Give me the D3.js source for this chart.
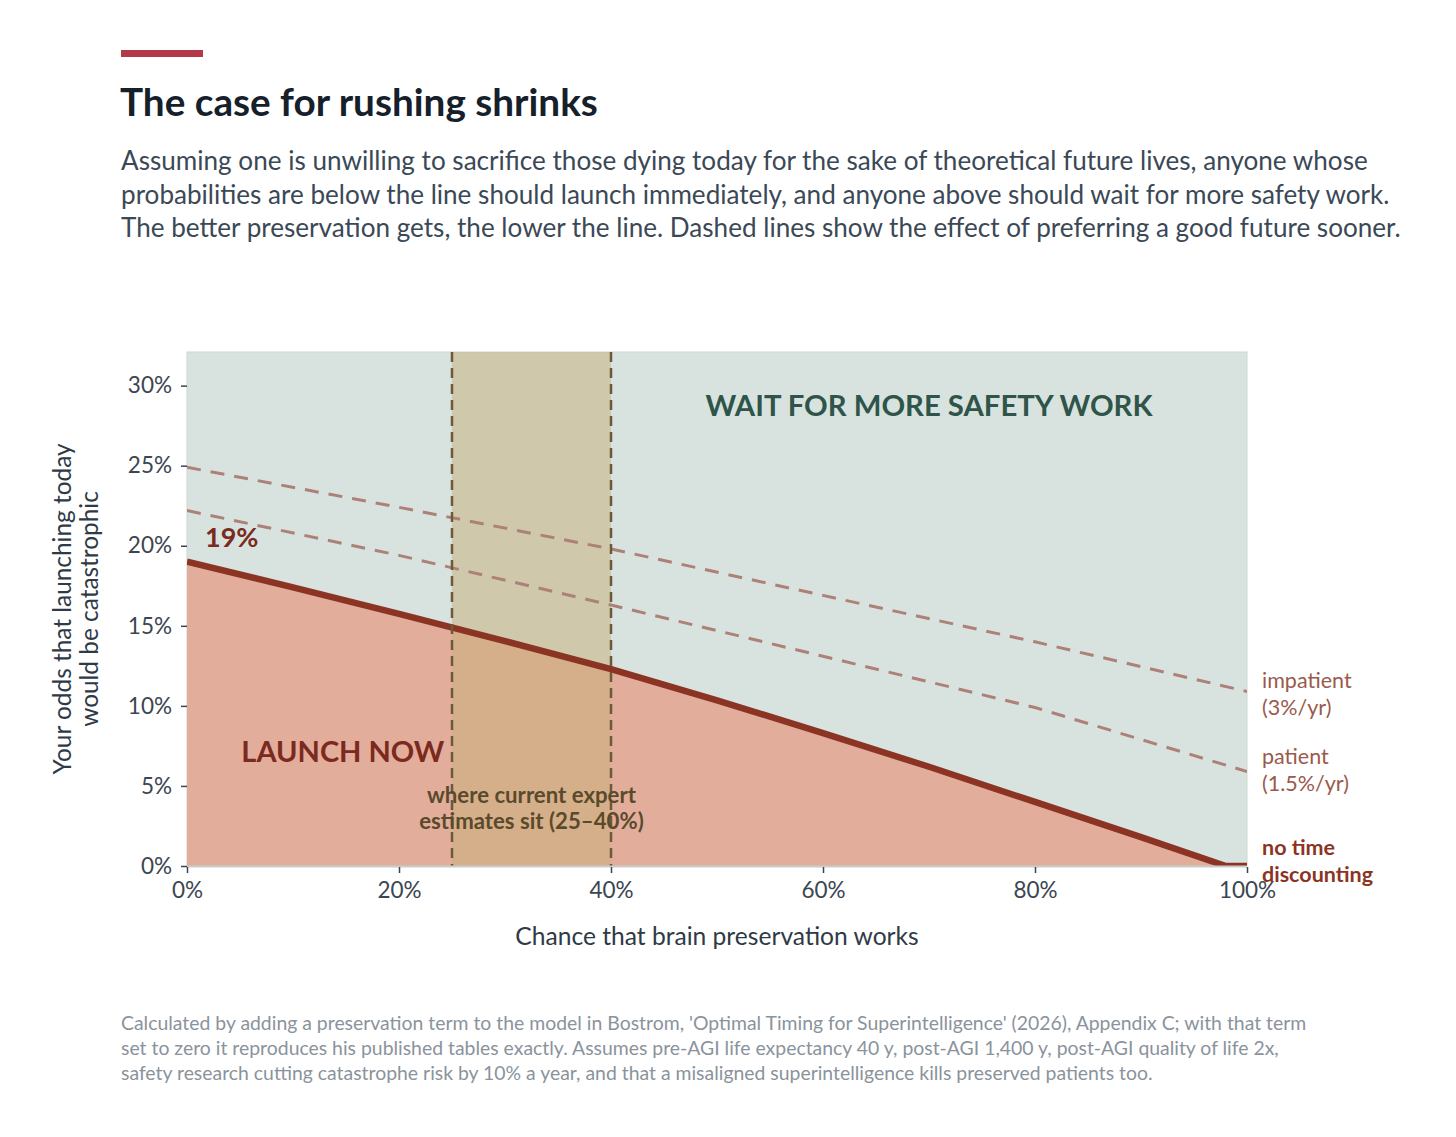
<!DOCTYPE html>
<html>
<head>
<meta charset="utf-8">
<script src="https://cdn.jsdelivr.net/npm/d3@7"></script>
<style>
  body { margin: 0; background: #fff; }
  svg { display: block; font-family: Lato, "Noto Sans", sans-serif; }
</style>
</head>
<body>
<div id="chart"></div>
<script>
// chance preservation works (%)
var preservation = [0, 10, 20, 30, 40, 50, 60, 70, 80, 90, 98, 100];
// threshold odds of catastrophe (%), no time discounting
var noDiscount = [19.0, 17.4, 15.75, 14.05, 12.3, 10.35, 8.3, 6.2, 4.0, 1.8, 0, 0];

var dashedX = [0, 20, 40, 60, 80, 100];
var impatient = [24.9, 22.4, 19.8, 16.9, 14.0, 10.9];   // 3%/yr
var patient = [22.2, 19.4, 16.3, 13.1, 9.9, 5.9];       // 1.5%/yr

var expertRange = [25, 40];
var yTicks = [0, 5, 10, 15, 20, 25, 30];
var xTicks = [0, 20, 40, 60, 80, 100];

var subtitle = [
  "Assuming one is unwilling to sacrifice those dying today for the sake of theoretical future lives, anyone whose",
  "probabilities are below the line should launch immediately, and anyone above should wait for more safety work.",
  "The better preservation gets, the lower the line. Dashed lines show the effect of preferring a good future sooner."
];
var footnote = [
  "Calculated by adding a preservation term to the model in Bostrom, 'Optimal Timing for Superintelligence' (2026), Appendix C; with that term",
  "set to zero it reproduces his published tables exactly. Assumes pre-AGI life expectancy 40 y, post-AGI 1,400 y, post-AGI quality of life 2x,",
  "safety research cutting catastrophe risk by 10% a year, and that a misaligned superintelligence kills preserved patients too."
];

var width = 1456, height = 1137;
var margin = { left: 187, right: 209, top: 352, bottom: 271 };

var svg = d3.select("#chart").append("svg")
    .attr("width", width)
    .attr("height", height);

// header
svg.append("rect")
  .attr("x", 121).attr("y", 50).attr("width", 82).attr("height", 7)
  .style("fill", "#b23a48");

svg.append("text")
  .attr("x", 120).attr("y", 116)
  .text("The case for rushing shrinks")
  .style("font-size", "38.7px")
  .style("font-weight", 700)
  .style("fill", "#16202b");

svg.append("g").selectAll("text")
  .data(subtitle)
 .enter()
  .append("text")
  .attr("x", 121)
  .attr("y", function(d, i) { return 170 + i * 33.5; })
  .text(function(d) { return d; })
  .style("font-size", "26.1px")
  .style("fill", "#3b4856");

var xScale = d3.scaleLinear()
    .domain([0, 100])
    .range([margin.left, width - margin.right]);

var yScale = d3.scaleLinear()
    .domain([0, 32.1])
    .range([height - margin.bottom, margin.top]);

var x0 = xScale(0), x1 = xScale(100), yb = yScale(0), yt = yScale(32.1);

svg.append("clipPath").attr("id", "plotclip")
  .append("rect")
  .attr("x", x0).attr("y", yt).attr("width", x1 - x0).attr("height", yb - yt);

// background: wait region
svg.append("rect")
  .attr("x", x0).attr("y", yt)
  .attr("width", x1 - x0).attr("height", yb - yt)
  .style("fill", "#d8e3df")
  .style("stroke", "#cbd8d3")
  .style("stroke-width", 1);

var plot = svg.append("g").attr("clip-path", "url(#plotclip)");

var mainData = preservation.map(function(p, i) { return { x: p, y: noDiscount[i] }; });

var area = d3.area()
    .x(function(d) { return xScale(d.x); })
    .y0(yScale(0))
    .y1(function(d) { return yScale(d.y); });

var line = d3.line()
    .x(function(d) { return xScale(d.x); })
    .y(function(d) { return yScale(d.y); });

plot.append("path")
  .datum(mainData)
  .attr("d", area)
  .style("fill", "#e3ad9b");

// expert estimate band
plot.append("rect")
  .attr("x", xScale(expertRange[0]))
  .attr("y", yt)
  .attr("width", xScale(expertRange[1]) - xScale(expertRange[0]))
  .attr("height", yb - yt)
  .style("fill", "#c8b07a")
  .style("fill-opacity", 0.53);

// dashed discounting lines
[impatient, patient].forEach(function(series) {
  plot.append("path")
    .datum(dashedX.map(function(p, i) { return { x: p, y: series[i] }; }))
    .attr("d", line)
    .style("fill", "none")
    .style("stroke", "#ad8078")
    .style("stroke-width", 3)
    .style("stroke-dasharray", "14,10");
});

plot.append("path")
  .datum(mainData)
  .attr("d", line)
  .style("fill", "none")
  .style("stroke", "#8c3424")
  .style("stroke-width", 6.5);

// band edges
plot.selectAll(".band-edge")
  .data(expertRange)
 .enter()
  .append("line")
  .attr("class", "band-edge")
  .attr("x1", function(d) { return xScale(d); })
  .attr("x2", function(d) { return xScale(d); })
  .attr("y1", yt).attr("y2", yb)
  .style("stroke", "#6b5a3a")
  .style("stroke-width", 2.5)
  .style("stroke-dasharray", "10,6");

// bottom baseline
svg.append("line")
  .attr("x1", x0).attr("x2", x1)
  .attr("y1", yb + 0.5).attr("y2", yb + 0.5)
  .style("stroke", "#c9cccc")
  .style("stroke-width", 2);

// axes
var yAxis = d3.axisLeft(yScale)
    .tickValues(yTicks)
    .tickSize(6)
    .tickPadding(9)
    .tickFormat(function(d) { return d + "%"; });

var xAxis = d3.axisBottom(xScale)
    .tickValues(xTicks)
    .tickSize(6)
    .tickPadding(9)
    .tickFormat(function(d) { return d + "%"; });

svg.append("g")
  .attr("class", "y axis")
  .attr("transform", "translate(" + x0 + ",0)")
  .call(yAxis);

svg.append("g")
  .attr("class", "x axis")
  .attr("transform", "translate(0," + (yb + 1) + ")")
  .call(xAxis);

svg.selectAll(".axis .domain").remove();
svg.selectAll(".axis .tick line")
  .style("stroke", "#3b4651")
  .style("stroke-width", 1.5);
svg.selectAll(".axis text")
  .style("font-family", "Lato, sans-serif")
  .style("font-size", "22.5px")
  .style("fill", "#3b4651");

// axis titles
svg.append("text")
  .attr("text-anchor", "middle")
  .attr("x", (x0 + x1) / 2)
  .attr("y", 945)
  .text("Chance that brain preservation works")
  .style("font-size", "24.6px")
  .style("fill", "#2e3a46");

var yTitle = svg.append("text")
  .attr("text-anchor", "middle")
  .attr("transform", "translate(71," + ((yt + yb) / 2) + ") rotate(-90)")
  .style("font-size", "24.4px")
  .style("fill", "#2e3a46");
yTitle.append("tspan").attr("x", 0).attr("dy", 0).text("Your odds that launching today");
yTitle.append("tspan").attr("x", 0).attr("dy", 27).text("would be catastrophic");

// region labels
svg.append("text")
  .attr("text-anchor", "middle")
  .attr("x", xScale(70))
  .attr("y", yScale(28.1))
  .text("WAIT FOR MORE SAFETY WORK")
  .style("font-size", "29.3px")
  .style("font-weight", 700)
  .style("fill", "#2f5449");

svg.append("text")
  .attr("text-anchor", "middle")
  .attr("x", xScale(14.7))
  .attr("y", yScale(6.5))
  .text("LAUNCH NOW")
  .style("font-size", "29px")
  .style("font-weight", 700)
  .style("fill", "#7a2a1e");

svg.append("text")
  .attr("x", xScale(1.7))
  .attr("y", yScale(19.95))
  .text(noDiscount[0] + "%")
  .style("font-size", "27px")
  .style("font-weight", 700)
  .style("fill", "#7a2a1e");

var bandLabel = svg.append("text")
  .attr("text-anchor", "middle")
  .style("font-size", "22.2px")
  .style("font-weight", 700)
  .style("fill", "#5a4a2c");
bandLabel.append("tspan")
  .attr("x", xScale((expertRange[0] + expertRange[1]) / 2))
  .attr("y", yScale(3.95))
  .text("where current expert");
bandLabel.append("tspan")
  .attr("x", xScale((expertRange[0] + expertRange[1]) / 2))
  .attr("y", yScale(2.28))
  .text("estimates sit (25\u201340%)");

// series labels on the right
var seriesLabels = [
  { lines: ["impatient", "(3%/yr)"], y: impatient[impatient.length - 1], color: "#9a5a4c", weight: 400 },
  { lines: ["patient", "(1.5%/yr)"], y: patient[patient.length - 1], color: "#9a5a4c", weight: 400 },
  { lines: ["no time", "discounting"], y: noDiscount[noDiscount.length - 1], color: "#8c3424", weight: 700 }
];
var offsets = [0.2, 0.45, 0.7];

seriesLabels.forEach(function(s, i) {
  var t = svg.append("text")
    .style("font-size", "21.5px")
    .style("font-weight", s.weight)
    .style("fill", s.color);
  var base = yScale(s.y + offsets[i]);
  s.lines.forEach(function(l, j) {
    t.append("tspan")
      .attr("x", x1 + 15)
      .attr("y", base + j * 27)
      .text(l);
  });
});

// footnote
svg.append("g").selectAll("text")
  .data(footnote)
 .enter()
  .append("text")
  .attr("x", 121)
  .attr("y", function(d, i) { return 1030 + i * 25; })
  .text(function(d) { return d; })
  .style("font-size", "19.4px")
  .style("fill", "#8a939c");
</script>
</body>
</html>
